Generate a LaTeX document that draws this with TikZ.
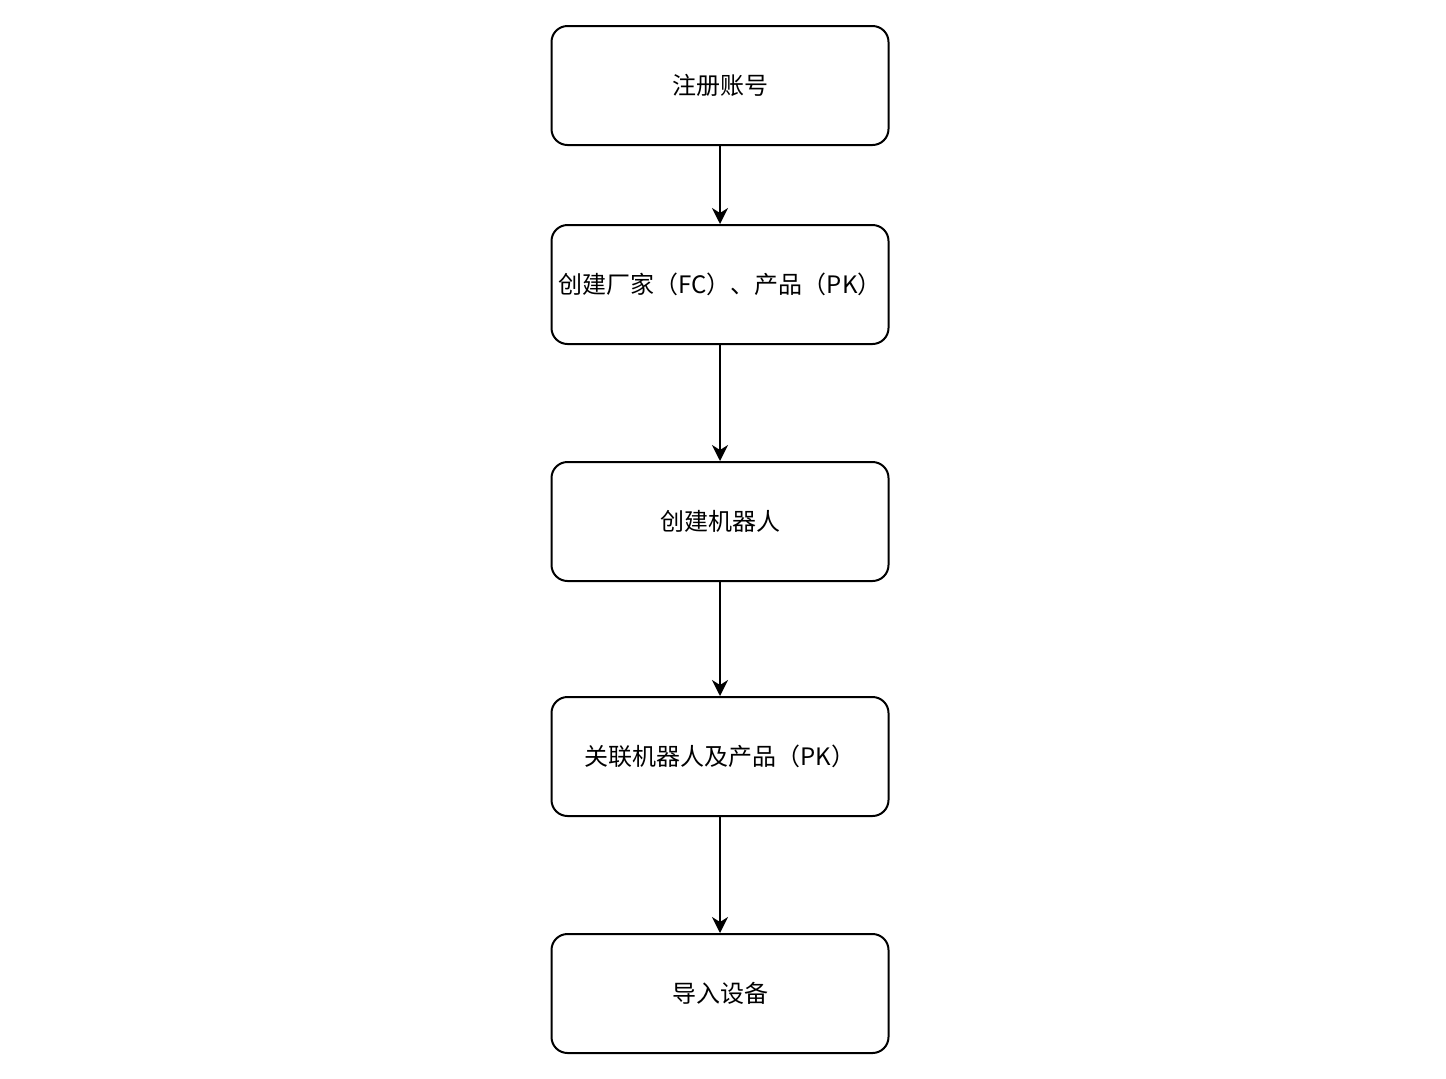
\documentclass[tikz,border=0pt]{standalone}
\usepackage{fontspec}
\setmainfont{Noto Sans CJK SC}
\usepackage{tikz}
\usetikzlibrary{arrows.meta, positioning}

\begin{document}
\begin{tikzpicture}[x=0.5pt, y=-0.5pt,
    stepbox/.style={draw, line width=1pt, rounded corners=8pt, fill=white,
        minimum width=168.5pt, minimum height=59.5pt, inner sep=0pt, font=\fontsize{12}{14}\selectfont},
    flow/.style={line width=1pt, -{Stealth[length=8pt, width=8pt, inset=2.5pt]}}]
    % Canvas
    \fill[white] (0,0) rectangle (1446,1078);
    \useasboundingbox (0,0) rectangle (1446,1078);

    % Steps (top to bottom)
    \node[stepbox] (reg)    at (720, 85.5)  {注册账号};
    \node[stepbox] (fcpk)   at (720, 284.5) {创建厂家（FC）、产品（PK）};
    \node[stepbox] (robot)  at (720, 521.5) {创建机器人};
    \node[stepbox] (link)   at (720, 756.5) {关联机器人及产品（PK）};
    \node[stepbox] (import) at (720, 993.5) {导入设备};

    % Arrows between steps
    \foreach \a/\b in {reg/fcpk, fcpk/robot, robot/link, link/import} {
        \draw[flow] (\a) -- (\b);
    }
\end{tikzpicture}
\end{document}
